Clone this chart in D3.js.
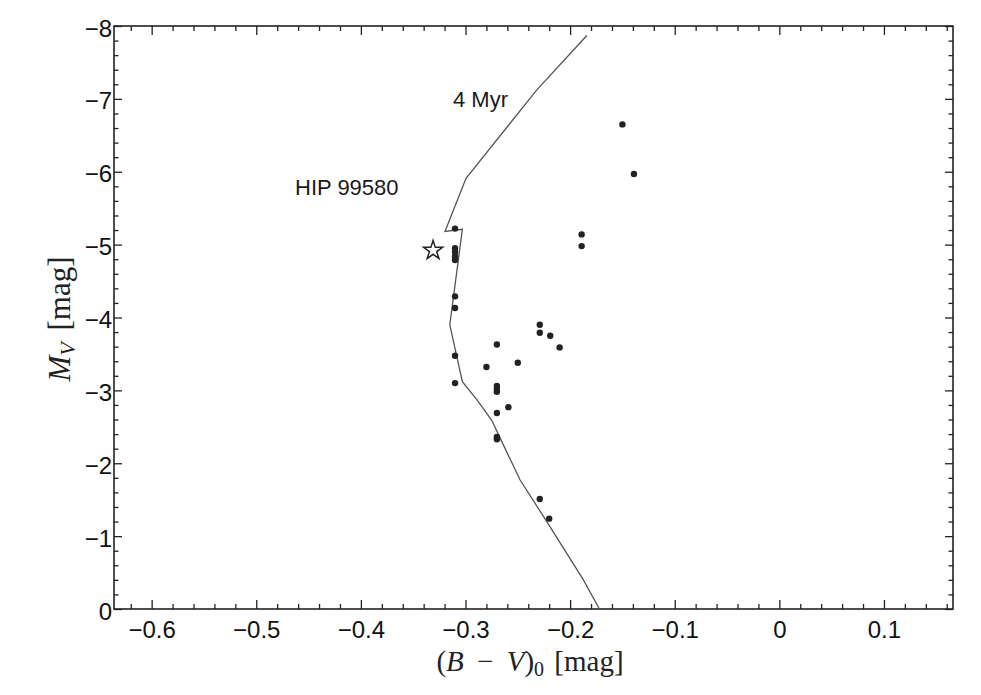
<!DOCTYPE html>
<html>
<head>
  <meta charset="utf-8">
  <title>CMD - HIP 99580</title>
  <script src="https://d3js.org/d3.v7.min.js"></script>
  <style>
    body { margin: 0; background: #fff; }
    .tick text {
      font: 24px "Liberation Sans", Arial, sans-serif;
      fill: #111;
    }
    .tick line { stroke: #222; stroke-width: 1.3px; }
    .domain { stroke: none; }
    .frame { fill: none; stroke: #222; stroke-width: 1.6px; }
    .iso { fill: none; stroke: #555; stroke-width: 1.3px; }
    .star-pt { fill: #222; }
    .note { font: 22px "Liberation Sans", Arial, sans-serif; fill: #1a1a1a; }
    .title { font: 31px "Liberation Serif", "Times New Roman", serif; fill: #222; }
  </style>
</head>
<body>
  <svg width="981" height="695"></svg>

  <script>
    // isochrone (4 Myr), B-V vs M_V
    const isoBV = [-0.184, -0.232, -0.2995, -0.3196, -0.303, -0.315, -0.303, -0.289, -0.2749, -0.2654, -0.2478, -0.2223, -0.1873, -0.172];
    const isoMV = [-7.87, -7.12, -5.91, -5.18, -5.21, -3.90, -3.12, -2.87, -2.59, -2.30, -1.77, -1.20, -0.40, 0.0];

    // cluster members
    const memBV = [-0.310, -0.310, -0.310, -0.310, -0.310, -0.189, -0.189, -0.310, -0.310,
                   -0.229, -0.229, -0.219, -0.210, -0.270, -0.310, -0.250, -0.280, -0.310,
                   -0.270, -0.270, -0.270, -0.259, -0.270, -0.270, -0.270, -0.229, -0.220,
                   -0.150, -0.139];
    const memMV = [-5.22, -4.95, -4.90, -4.84, -4.79, -5.14, -4.98, -4.29, -4.13,
                   -3.90, -3.79, -3.75, -3.59, -3.63, -3.475, -3.38, -3.32, -3.10,
                   -3.06, -3.02, -2.98, -2.77, -2.69, -2.36, -2.33, -1.51, -1.24,
                   -6.65, -5.97];

    const hipBV = -0.331, hipMV = -4.92;

    const xMajor = [-0.6, -0.5, -0.4, -0.3, -0.2, -0.1, 0, 0.1];
    const yMajor = [0, -1, -2, -3, -4, -5, -6, -7, -8];

    const svg = d3.select("svg");
    const pl = 114, pr = 953, pt = 26, pb = 609;

    const x = d3.scaleLinear().domain([-0.636, 0.166]).range([pl, pr]);
    const y = d3.scaleLinear().domain([0, -8]).range([pb, pt]);

    const fmt = v => (v < 0 ? "\u2212" : "") + d3.format("")(Math.abs(v));
    const xMinor = d3.range(-0.62, 0.17, 0.02).filter(v => xMajor.every(m => Math.abs(m - v) > 1e-6));
    const yMinor = d3.range(-0.2, -8, -0.2).filter(v => yMajor.every(m => Math.abs(m - v) > 1e-6));

    // bottom
    svg.append("g").attr("transform", `translate(0,${pb})`)
      .call(d3.axisBottom(x).tickValues(xMajor).tickFormat(fmt).tickSize(-9).tickPadding(12));
    svg.append("g").attr("transform", `translate(0,${pb})`)
      .call(d3.axisBottom(x).tickValues(xMinor).tickFormat("").tickSize(-5));
    // top
    svg.append("g").attr("transform", `translate(0,${pt})`)
      .call(d3.axisTop(x).tickValues(xMajor).tickFormat("").tickSize(-9));
    svg.append("g").attr("transform", `translate(0,${pt})`)
      .call(d3.axisTop(x).tickValues(xMinor).tickFormat("").tickSize(-5));
    // left
    svg.append("g").attr("transform", `translate(${pl},0)`)
      .call(d3.axisLeft(y).tickValues(yMajor).tickFormat(fmt).tickSize(-8).tickPadding(2))
      .selectAll("text").attr("dy", "0.42em");
    svg.append("g").attr("transform", `translate(${pl},0)`)
      .call(d3.axisLeft(y).tickValues(yMinor).tickFormat("").tickSize(-4.5));
    // right
    svg.append("g").attr("transform", `translate(${pr},0)`)
      .call(d3.axisRight(y).tickValues(yMajor).tickFormat("").tickSize(-8));
    svg.append("g").attr("transform", `translate(${pr},0)`)
      .call(d3.axisRight(y).tickValues(yMinor).tickFormat("").tickSize(-4.5));

    svg.append("rect").attr("class", "frame")
      .attr("x", pl).attr("y", pt)
      .attr("width", pr - pl).attr("height", pb - pt);

    // isochrone
    const line = d3.line().x(i => x(isoBV[i])).y(i => y(isoMV[i]));
    svg.append("path").attr("class", "iso").attr("d", line(d3.range(isoBV.length)));

    // members
    svg.selectAll("circle.mem")
      .data(d3.range(memBV.length))
      .enter().append("circle")
      .attr("class", "star-pt")
      .attr("cx", i => x(memBV[i]))
      .attr("cy", i => y(memMV[i]))
      .attr("r", 3.2);

    // HIP 99580
    svg.append("path")
      .attr("d", d3.symbol().type(d3.symbolStar).size(112)())
      .attr("transform", `translate(${x(hipBV)},${y(hipMV)})`)
      .attr("fill", "#fff").attr("stroke", "#222").attr("stroke-width", 1.5);

    svg.append("text").attr("class", "note").attr("x", 453).attr("y", 107).text("4 Myr");
    svg.append("text").attr("class", "note").attr("x", 295).attr("y", 195).text("HIP 99580");

    // axis titles
    const xt = svg.append("text").attr("class", "title")
      .attr("x", 530).attr("y", 671).attr("text-anchor", "middle")
      .style("font-size", "29px");
    xt.append("tspan").text("(");
    xt.append("tspan").attr("font-style", "italic").text("B");
    xt.append("tspan").attr("dx", 6).text(" \u2212 ");
    xt.append("tspan").attr("dx", 6).attr("font-style", "italic").text("V");
    xt.append("tspan").text(")");
    xt.append("tspan").attr("font-size", "20px").attr("dy", 5).text("0");
    xt.append("tspan").attr("dy", -5).attr("dx", 3).text(" [mag]");

    const yt = svg.append("text").attr("class", "title")
      .attr("transform", "translate(70,319) rotate(-90)")
      .attr("text-anchor", "middle");
    yt.append("tspan").attr("font-style", "italic").text("M");
    yt.append("tspan").attr("font-style", "italic").attr("font-size", "22px").attr("dy", 5).text("V");
    yt.append("tspan").attr("dy", -5).attr("dx", 4).text(" [mag]");
  </script>
</body>
</html>
